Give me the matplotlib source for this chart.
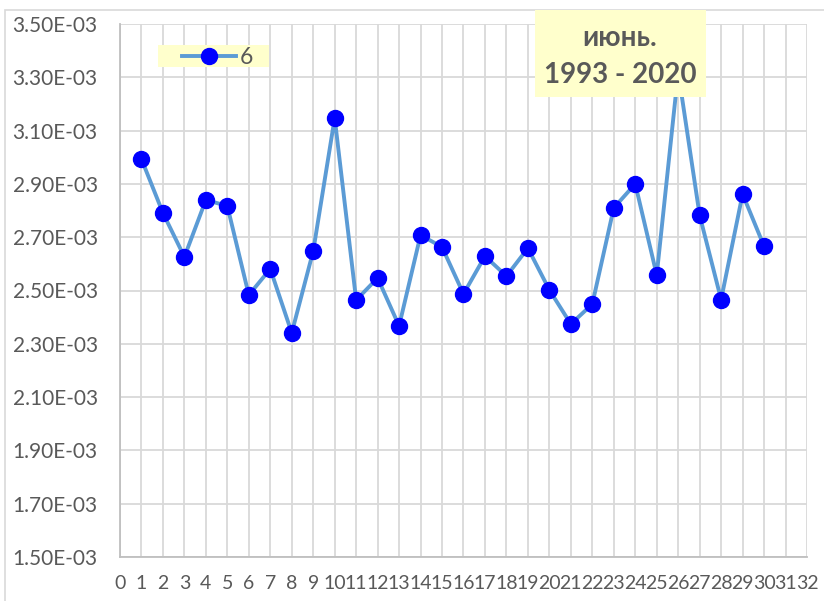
import matplotlib.pyplot as plt
from matplotlib.patches import Rectangle
from matplotlib.lines import Line2D
from matplotlib.ticker import FuncFormatter

plt.rcParams['font.family'] = ['Lato', 'DejaVu Sans']

# данные: июнь, 1993 - 2020
days = list(range(1, 31))
values = [2.993e-3, 2.791e-3, 2.626e-3, 2.840e-3, 2.817e-3, 2.483e-3, 2.581e-3, 2.341e-3,
          2.648e-3, 3.147e-3, 2.464e-3, 2.547e-3, 2.367e-3, 2.708e-3, 2.663e-3, 2.487e-3,
          2.629e-3, 2.554e-3, 2.659e-3, 2.502e-3, 2.374e-3, 2.449e-3, 2.810e-3, 2.900e-3,
          2.558e-3, 3.320e-3, 2.782e-3, 2.466e-3, 2.862e-3, 2.666e-3]
series_name = "6"
title_lines = ["июнь.", "1993 - 2020"]
x_ticks = list(range(0, 33))
y_ticks = [1.5e-3 + 0.2e-3 * i for i in range(11)]

W, H = 824, 601
fig = plt.figure(figsize=(W / 100, H / 100), dpi=100)


def fx(px):
    return px / W


def fy(py):
    return 1 - py / H


# рамка области диаграммы
fig.add_artist(Rectangle((fx(5), fy(H + 5)), fx(W), fy(10) - fy(H + 5), transform=fig.transFigure,
                         facecolor='none', edgecolor='#D9D9D9', lw=1.2, zorder=0))

ax = fig.add_axes([fx(120), fy(557), fx(807) - fx(120), fy(24) - fy(557)])
ax.plot(days, values, color='#5B9BD5', lw=2.8, marker='o', markersize=11.5,
        markerfacecolor='#0000FF', markeredgecolor='#0000FF', zorder=3, clip_on=False)

ax.set_xlim(0, 32)
ax.set_ylim(1.5e-3, 3.5e-3)
ax.set_xticks(x_ticks)
ax.set_yticks(y_ticks)
ax.yaxis.set_major_formatter(FuncFormatter(lambda v, p: '{:.2E}'.format(v)))
ax.grid(True, color='#D9D9D9', lw=1.3)
ax.set_axisbelow(True)
for s in ['top', 'right']:
    ax.spines[s].set_visible(False)
ax.spines['left'].set_color('#BFBFBF')
ax.spines['bottom'].set_color('#BFBFBF')
ax.spines['left'].set_linewidth(1.3)
ax.spines['bottom'].set_linewidth(1.3)
ax.tick_params(axis='y', length=0, pad=16, labelsize=15, labelcolor='#595959')
ax.tick_params(axis='x', length=0, pad=13, labelsize=14, labelcolor='#595959')

# легенда
fig.add_artist(Rectangle((fx(158), fy(67)), fx(269) - fx(158), fy(45) - fy(67), transform=fig.transFigure,
                         facecolor='#FFFFCC', edgecolor='none', zorder=5))
fig.add_artist(Line2D([fx(182), fx(236)], [fy(56), fy(56)], transform=fig.transFigure,
                      color='#5B9BD5', lw=2.8, zorder=6))
fig.add_artist(Line2D([fx(209)], [fy(56)], transform=fig.transFigure, marker='o', markersize=11.5,
                      markerfacecolor='#0000FF', markeredgecolor='#0000FF', zorder=7))
fig.text(fx(240), fy(57), series_name, fontsize=16.5, color='#595959', va='center', ha='left', zorder=7)

# подпись
fig.add_artist(Rectangle((fx(535), fy(97)), fx(706) - fx(535), fy(10) - fy(97), transform=fig.transFigure,
                         facecolor='#FFFFCC', edgecolor='none', zorder=5))
fig.text(fx(620), fy(38), title_lines[0], fontsize=20, fontweight='bold', color='#595959',
         ha='center', va='center', zorder=6)
fig.text(fx(620), fy(75), title_lines[1], fontsize=20, fontweight='bold', color='#595959',
         ha='center', va='center', zorder=6)

fig.savefig('out.png', dpi=100)
